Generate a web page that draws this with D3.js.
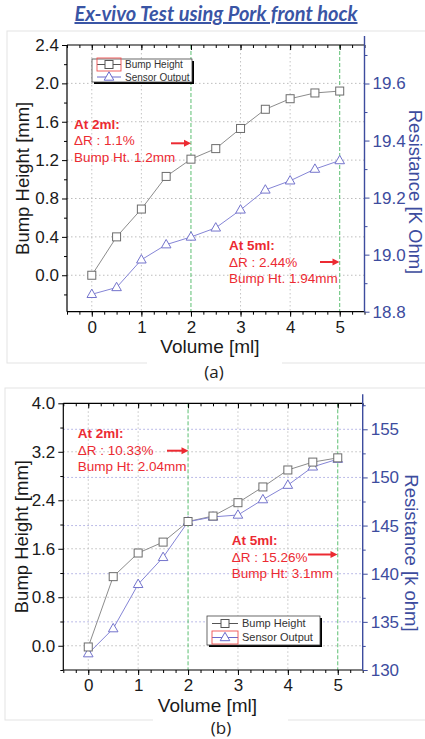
<!DOCTYPE html>
<html>
<head>
<meta charset="utf-8">
<script src="https://cdnjs.cloudflare.com/ajax/libs/d3/7.8.5/d3.min.js"></script>
<style>
    html, body { margin: 0; padding: 0; background: #fff; }
    svg { display: block; }
</style>
</head>
<body>
<svg width="425" height="739"></svg>
<script>
// *** data ***
const volume = [0, 0.5, 1, 1.5, 2, 2.5, 3, 3.5, 4, 4.5, 5];
const bumpA = [0.0, 0.40, 0.69, 1.03, 1.21, 1.32, 1.53, 1.73, 1.84, 1.90, 1.92];
const sensorA = [18.861, 18.885, 18.982, 19.035, 19.062, 19.094, 19.157, 19.227, 19.259, 19.30, 19.33];
const bumpB = [-0.02, 1.14, 1.53, 1.71, 2.05, 2.14, 2.36, 2.62, 2.90, 3.03, 3.10];
const sensorB = [131.7, 134.3, 138.9, 141.7, 145.4, 145.9, 146.1, 147.7, 149.2, 151.1, 151.9];

const xTicks = [0, 1, 2, 3, 4, 5];
const markedVolumes = [2, 5];
const leftTicksA = [0.0, 0.4, 0.8, 1.2, 1.6, 2.0, 2.4];
const rightTicksA = [18.8, 19.0, 19.2, 19.4, 19.6];
const leftTicksB = [0.0, 0.8, 1.6, 2.4, 3.2, 4.0];
const rightTicksB = [130, 135, 140, 145, 150, 155];

const seriesNames = ['Bump Height', 'Sensor Output'];
const notesA = [
    ['At 2ml:', '\u0394R : 1.1%', 'Bump Ht. 1.2mm'],
    ['At 5ml:', '\u0394R : 2.44%', 'Bump Ht. 1.94mm'],
];
const notesB = [
    ['At 2ml:', '\u0394R : 10.33%', 'Bump Ht: 2.04mm'],
    ['At 5ml:', '\u0394R : 15.26%', 'Bump Ht: 3.1mm'],
];

const title = 'Ex-vivo Test using Pork front hock';
const RED = '#ec2a32';
const BLUE = '#3d4c9e';
const FONT = 'Liberation Sans, Arial, sans-serif';

const svg = d3.select('svg');

// *** title ***
svg.append('text')
    .attr('x', 216)
    .attr('y', 21)
    .attr('text-anchor', 'middle')
    .attr('font-family', 'Lato, sans-serif')
    .attr('font-size', 20)
    .attr('font-weight', 'bold')
    .attr('font-style', 'italic')
    .attr('text-decoration', 'underline')
    .attr('fill', '#3a55a5')
    .text(title);

const drawPanel = (cfg) => {
    const g = svg.append('g');

    // panel frame
    g.append('rect')
        .attr('x', cfg.frame[0]).attr('y', cfg.frame[1])
        .attr('width', cfg.frame[2]).attr('height', cfg.frame[3])
        .attr('fill', '#fff').attr('stroke', '#e3e3e3');
    g.append('rect')
        .attr('x', cfg.captionGap[0]).attr('y', cfg.frame[1] + cfg.frame[3] - 1)
        .attr('width', cfg.captionGap[1] - cfg.captionGap[0]).attr('height', 4)
        .attr('fill', '#fff');

    const x = d3.scaleLinear().domain([-0.5, 5.5]).range([cfg.left, cfg.right]);
    const yL = d3.scaleLinear().domain(cfg.leftDomain).range([cfg.bottom, cfg.top]);
    const yR = d3.scaleLinear().domain(cfg.rightDomain).range([cfg.bottom, cfg.top]);

    // *** grid ***
    if (cfg.rightGrid) {
        g.append('g').selectAll('line')
            .data(cfg.rightTicks.filter(d => yR(d) > cfg.top + 1 && yR(d) < cfg.bottom - 1))
            .join('line')
            .attr('x1', cfg.left).attr('x2', cfg.right)
            .attr('y1', d => yR(d)).attr('y2', d => yR(d))
            .attr('stroke', '#a7a7e0').attr('stroke-dasharray', '1.5,2.5');
    }
    g.append('g').selectAll('line')
        .data(cfg.leftTicks.filter(d => yL(d) > cfg.top + 1 && yL(d) < cfg.bottom - 1))
        .join('line')
        .attr('x1', cfg.left).attr('x2', cfg.right)
        .attr('y1', d => yL(d)).attr('y2', d => yL(d))
        .attr('stroke', '#bdbdbd').attr('stroke-dasharray', '1.5,2.5');
    g.append('g').selectAll('line')
        .data(xTicks.filter(d => !markedVolumes.includes(d)))
        .join('line')
        .attr('x1', d => x(d)).attr('x2', d => x(d))
        .attr('y1', cfg.top).attr('y2', cfg.bottom)
        .attr('stroke', '#c4c4c4').attr('stroke-dasharray', '1.5,2.5');
    g.append('g').selectAll('line')
        .data(markedVolumes)
        .join('line')
        .attr('x1', d => x(d)).attr('x2', d => x(d))
        .attr('y1', cfg.top).attr('y2', cfg.bottom)
        .attr('stroke', '#5cbf72').attr('stroke-dasharray', '4,2');

    // *** axes ***
    const minorX = d3.range(-0.5, 5.51, 0.25);
    const styleAxis = (sel, color, size) => {
        sel.select('.domain').remove();
        sel.selectAll('line').attr('stroke', color);
        sel.selectAll('text')
            .attr('fill', color === '#000' ? '#1a1a1a' : color)
            .attr('font-family', FONT)
            .attr('font-size', size);
    };
    // bottom
    g.append('g')
        .attr('transform', `translate(0,${cfg.bottom})`)
        .call(d3.axisBottom(x).tickValues(minorX).tickSize(3).tickFormat(''))
        .call(s => styleAxis(s, '#000', 0));
    g.append('g')
        .attr('transform', `translate(0,${cfg.bottom})`)
        .call(d3.axisBottom(x).tickValues(xTicks).tickSize(5).tickPadding(4).tickFormat(d3.format('d')))
        .call(s => styleAxis(s, '#000', 17));
    // top (ticks inward)
    g.append('g')
        .attr('transform', `translate(0,${cfg.top})`)
        .call(d3.axisBottom(x).tickValues(minorX).tickSize(3).tickFormat(''))
        .call(s => styleAxis(s, '#000', 0));
    g.append('g')
        .attr('transform', `translate(0,${cfg.top})`)
        .call(d3.axisBottom(x).tickValues(xTicks).tickSize(5).tickFormat(''))
        .call(s => styleAxis(s, '#000', 0));
    // left
    const lStep = cfg.leftTicks[1] - cfg.leftTicks[0];
    g.append('g')
        .attr('transform', `translate(${cfg.left},0)`)
        .call(d3.axisLeft(yL).tickValues(cfg.leftTicks.map(d => d - lStep / 2).concat(cfg.leftTicks.slice(-1).map(d => d + lStep / 2)).filter(d => yL(d) <= cfg.bottom && yL(d) >= cfg.top)).tickSize(3).tickFormat(''))
        .call(s => styleAxis(s, '#000', 0));
    g.append('g')
        .attr('transform', `translate(${cfg.left},0)`)
        .call(d3.axisLeft(yL).tickValues(cfg.leftTicks).tickSize(5).tickPadding(3).tickFormat(d3.format('.1f')))
        .call(s => styleAxis(s, '#000', 17));
    // right
    const rStep = cfg.rightTicks[1] - cfg.rightTicks[0];
    g.append('g')
        .attr('transform', `translate(${cfg.right},0)`)
        .call(d3.axisRight(yR).tickValues(cfg.rightTicks.map(d => d + rStep / 2).filter(d => yR(d) >= cfg.top)).tickSize(3).tickFormat(''))
        .call(s => styleAxis(s, BLUE, 0));
    g.append('g')
        .attr('transform', `translate(${cfg.right},0)`)
        .call(d3.axisRight(yR).tickValues(cfg.rightTicks).tickSize(5).tickPadding(3).tickFormat(cfg.rightFormat))
        .call(s => styleAxis(s, BLUE, 17));

    // frame lines
    g.append('line')
        .attr('x1', cfg.left).attr('x2', cfg.right)
        .attr('y1', cfg.top).attr('y2', cfg.top)
        .attr('stroke', '#000').attr('stroke-width', 1.2);
    g.append('line')
        .attr('x1', cfg.left).attr('x2', cfg.right)
        .attr('y1', cfg.bottom).attr('y2', cfg.bottom)
        .attr('stroke', '#000').attr('stroke-width', 1.2);
    g.append('line')
        .attr('x1', cfg.left).attr('x2', cfg.left)
        .attr('y1', cfg.top).attr('y2', cfg.bottom)
        .attr('stroke', '#000').attr('stroke-width', 1.2);
    g.append('line')
        .attr('x1', cfg.right).attr('x2', cfg.right)
        .attr('y1', cfg.top - 9).attr('y2', cfg.bottom)
        .attr('stroke', BLUE).attr('stroke-width', 1.4);

    // axis titles
    g.append('text')
        .attr('transform', `translate(${cfg.leftTitleX},${(cfg.top + cfg.bottom) / 2}) rotate(-90)`)
        .attr('text-anchor', 'middle')
        .attr('font-family', FONT).attr('font-size', 18.5)
        .attr('fill', '#1a1a1a')
        .text('Bump Height [mm]');
    g.append('text')
        .attr('transform', `translate(${cfg.rightTitleX},${cfg.rightTitleY}) rotate(90)`)
        .attr('text-anchor', 'middle')
        .attr('font-family', FONT).attr('font-size', 18.5)
        .attr('fill', BLUE)
        .text(cfg.rightTitle);
    g.append('text')
        .attr('x', cfg.xTitle[0]).attr('y', cfg.xTitle[1])
        .attr('text-anchor', 'middle')
        .attr('font-family', FONT).attr('font-size', 19)
        .attr('fill', '#1a1a1a')
        .text('Volume [ml]');
    g.append('text')
        .attr('x', cfg.caption[0]).attr('y', cfg.caption[1])
        .attr('text-anchor', 'middle')
        .attr('font-family', 'Open Sans, sans-serif').attr('font-size', 17)
        .attr('fill', '#222')
        .text(cfg.captionText);

    // *** series ***
    const bumpPts = volume.map((v, i) => [x(v), yL(cfg.bump[i])]);
    const sensorPts = volume.map((v, i) => [x(v), yR(cfg.sensor[i])]);
    const line = d3.line();
    g.append('path').attr('d', line(bumpPts))
        .attr('fill', 'none').attr('stroke', '#8c8c8c').attr('stroke-width', 1);
    g.append('path').attr('d', line(sensorPts))
        .attr('fill', 'none').attr('stroke', '#8585d6').attr('stroke-width', 1);
    const tri = 'M0,-5.2L4.8,3.2L-4.8,3.2Z';
    g.append('g').selectAll('path')
        .data(sensorPts)
        .join('path')
        .attr('transform', d => `translate(${d[0]},${d[1]})`)
        .attr('d', tri)
        .attr('fill', '#fff').attr('stroke', '#7474cc').attr('stroke-width', 1);
    g.append('g').selectAll('rect')
        .data(bumpPts)
        .join('rect')
        .attr('x', d => d[0] - 4).attr('y', d => d[1] - 4)
        .attr('width', 8).attr('height', 8)
        .attr('fill', '#fff').attr('stroke', '#6c6c6c').attr('stroke-width', 1);

    // *** annotations ***
    cfg.notes.forEach((note, k) => {
        const pos = cfg.notePos[k];
        note.forEach((txt, j) => {
            g.append('text')
                .attr('x', pos[0]).attr('y', pos[1] + j * 16.5)
                .attr('font-family', FONT).attr('font-size', 13.5)
                .attr('font-weight', j === 0 ? 'bold' : 'normal')
                .attr('fill', RED)
                .text(txt);
        });
        const a = cfg.arrows[k];
        g.append('line')
            .attr('x1', a[0]).attr('x2', a[1] - 6)
            .attr('y1', a[2]).attr('y2', a[2])
            .attr('stroke', RED).attr('stroke-width', 2);
        g.append('path')
            .attr('d', `M${a[1]},${a[2]}L${a[1] - 7},${a[2] - 3.5}L${a[1] - 7},${a[2] + 3.5}Z`)
            .attr('fill', RED);
    });

    // *** legend ***
    const L = cfg.legend;
    g.append('rect')
        .attr('x', L.x + 2).attr('y', L.y + 2).attr('width', L.w).attr('height', L.h)
        .attr('fill', '#000');
    g.append('rect')
        .attr('x', L.x).attr('y', L.y).attr('width', L.w).attr('height', L.h)
        .attr('fill', '#fff').attr('stroke', '#444').attr('stroke-width', 0.8);
    seriesNames.forEach((name, i) => {
        const ly = L.y + L.row0 + i * L.rowGap;
        g.append('line')
            .attr('x1', L.x + 5).attr('x2', L.x + 5 + L.sym * 2)
            .attr('y1', ly).attr('y2', ly)
            .attr('stroke', i === 0 ? '#555' : '#6a6acc').attr('stroke-width', 1);
        const cx = L.x + 5 + L.sym;
        if (i === 0) {
            g.append('rect')
                .attr('x', cx - 4).attr('y', ly - 4).attr('width', 8).attr('height', 8)
                .attr('fill', '#fff').attr('stroke', '#555');
        } else {
            g.append('path')
                .attr('transform', `translate(${cx},${ly})`)
                .attr('d', tri)
                .attr('fill', '#fff').attr('stroke', '#6a6acc');
        }
        if (i === L.highlight) {
            g.append('rect')
                .attr('x', L.x + 5).attr('y', ly - 6.5).attr('width', L.sym * 2).attr('height', 13)
                .attr('fill', 'none').attr('stroke', '#ef5050').attr('stroke-width', 0.9);
        }
        g.append('text')
            .attr('x', L.x + 9 + L.sym * 2).attr('y', ly)
            .attr('dy', '0.35em')
            .attr('font-family', FONT).attr('font-size', L.font)
            .attr('fill', '#333')
            .text(name);
    });
};

drawPanel({
    frame: [7, 31, 430, 332],
    captionGap: [147, 282],
    left: 67, right: 364.5, top: 45, bottom: 311.7,
    leftDomain: [-0.38, 2.4],
    rightDomain: [18.8, 19.735],
    leftTicks: leftTicksA,
    rightTicks: rightTicksA,
    rightFormat: d3.format('.1f'),
    rightGrid: false,
    bump: bumpA,
    sensor: sensorA,
    leftTitleX: 29,
    rightTitleX: 409,
    rightTitleY: 192,
    rightTitle: 'Resistance [K Ohm]',
    xTitle: [210, 353],
    caption: [214, 378],
    captionText: '(a)',
    notes: notesA,
    notePos: [[74, 128.5], [229, 250]],
    arrows: [[171, 191, 143.3], [320, 339.5, 262]],
    legend: { x: 92, y: 59, w: 100, h: 23, row0: 5.5, rowGap: 12.5, sym: 12, font: 10, highlight: 0 },
});

drawPanel({
    frame: [5, 388, 430, 332],
    captionGap: [153, 288],
    left: 63.3, right: 362.7, top: 403.3, bottom: 670,
    leftDomain: [-0.4, 4.0],
    rightDomain: [130, 157.7],
    leftTicks: leftTicksB,
    rightTicks: rightTicksB,
    rightFormat: d3.format('d'),
    rightGrid: true,
    bump: bumpB,
    sensor: sensorB,
    leftTitleX: 28,
    rightTitleX: 405,
    rightTitleY: 553,
    rightTitle: 'Resistance [k ohm]',
    xTitle: [207.5, 711.5],
    caption: [221, 734],
    captionText: '(b)',
    notes: notesB,
    notePos: [[77.7, 438.3], [231.7, 545]],
    arrows: [[167, 188.5, 450.7], [308, 337.5, 554.5]],
    legend: { x: 207, y: 616, w: 113, h: 29, row0: 7.5, rowGap: 14, sym: 13, font: 11, highlight: 1 },
});
</script>
</body>
</html>
